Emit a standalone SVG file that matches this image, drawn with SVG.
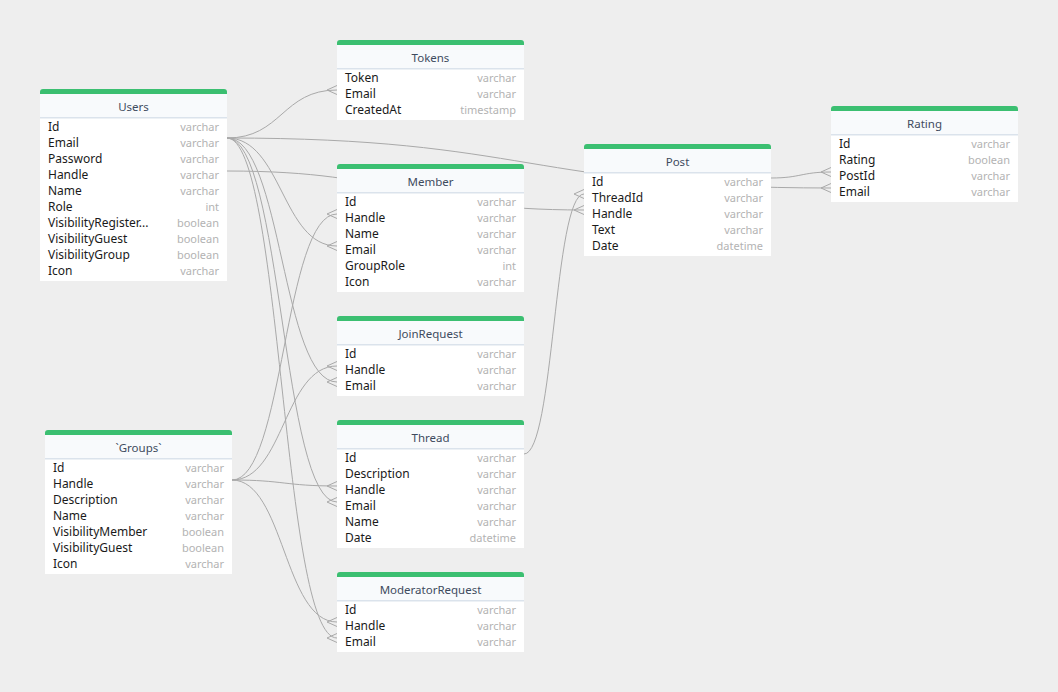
<svg xmlns="http://www.w3.org/2000/svg" width="1058" height="692" viewBox="0 0 1058 692">
<defs>
<style>
.bg{fill:#eeeeee}
.bar{fill:#3bbf71}
.head{fill:#f8fafc}
.body{fill:#ffffff}
.sep{fill:#dbe3ec}
.title{font-family:"Noto Sans","Open Sans",sans-serif;font-size:11.5px;fill:#3e4b5e;text-anchor:middle}
.f{font-family:"Noto Sans","Open Sans",sans-serif;font-size:12px;fill:#1a1a1a}
.t{font-family:"Noto Sans","Open Sans",sans-serif;font-size:11px;fill:#b3b3b3;text-anchor:end}
.c{fill:none;stroke:#a9a9a9;stroke-width:1}
</style>
<marker id="crow" markerUnits="userSpaceOnUse" markerWidth="12" markerHeight="12" viewBox="0 0 12 12" refX="11" refY="6" orient="auto">
<path d="M1,6 L11,1.5 M1,6 L11,10.5" fill="none" stroke="#a9a9a9" stroke-width="1"/>
</marker>
<path id="hdr" d="M0,5 V3 Q0,0 3,0 H184 Q187,0 187,3 V5 Z"/>
</defs>
<rect class="bg" x="0" y="0" width="1058" height="692"/>

<g id="connectors">
<path class="c" marker-end="url(#crow)" d="M227,138 C282,138 282,90 337,90"/>
<path class="c" marker-end="url(#crow)" d="M227,138 C529,138 529,188 831,188"/>
<path class="c" marker-end="url(#crow)" d="M227,138 C282,138 282,246 337,246"/>
<path class="c" marker-end="url(#crow)" d="M227,138 C282,138 282,382 337,382"/>
<path class="c" marker-end="url(#crow)" d="M227,138 C282,138 282,502 337,502"/>
<path class="c" marker-end="url(#crow)" d="M227,138 C282,138 282,638 337,638"/>
<path class="c" marker-end="url(#crow)" d="M227,171 C405,171 405,210 584,210"/>
<path class="c" marker-end="url(#crow)" d="M232,480 C284,480 284,214 337,214"/>
<path class="c" marker-end="url(#crow)" d="M232,480 C284,480 284,366 337,366"/>
<path class="c" marker-end="url(#crow)" d="M232,480 C284,480 284,486 337,486"/>
<path class="c" marker-end="url(#crow)" d="M232,480 C284,480 284,622 337,622"/>
<path class="c" marker-end="url(#crow)" d="M524,454 C554,454 554,194 584,194"/>
<path class="c" marker-end="url(#crow)" d="M771,178 C801,178 801,172 831,172"/>
</g>

<g id="Tokens" transform="translate(337,40)">
<use href="#hdr" class="bar"/><rect class="head" x="0" y="5" width="187" height="23"/><rect class="body" x="0" y="28" width="187" height="52"/><rect class="sep" x="0" y="28" width="187" height="1.5"/>
<text class="title" x="93.5" y="22">Tokens</text>
<text class="f" x="8" y="42">Token</text><text class="t" x="179" y="42">varchar</text>
<text class="f" x="8" y="58">Email</text><text class="t" x="179" y="58">varchar</text>
<text class="f" x="8" y="74">CreatedAt</text><text class="t" x="179" y="74">timestamp</text>
</g>

<g id="Users" transform="translate(40,89)">
<use href="#hdr" class="bar"/><rect class="head" x="0" y="5" width="187" height="23"/><rect class="body" x="0" y="28" width="187" height="164"/><rect class="sep" x="0" y="28" width="187" height="1.5"/>
<text class="title" x="93.5" y="22">Users</text>
<text class="f" x="8" y="42">Id</text><text class="t" x="179" y="42">varchar</text>
<text class="f" x="8" y="58">Email</text><text class="t" x="179" y="58">varchar</text>
<text class="f" x="8" y="74">Password</text><text class="t" x="179" y="74">varchar</text>
<text class="f" x="8" y="90">Handle</text><text class="t" x="179" y="90">varchar</text>
<text class="f" x="8" y="106">Name</text><text class="t" x="179" y="106">varchar</text>
<text class="f" x="8" y="122">Role</text><text class="t" x="179" y="122">int</text>
<text class="f" x="8" y="138">VisibilityRegister...</text><text class="t" x="179" y="138">boolean</text>
<text class="f" x="8" y="154">VisibilityGuest</text><text class="t" x="179" y="154">boolean</text>
<text class="f" x="8" y="170">VisibilityGroup</text><text class="t" x="179" y="170">boolean</text>
<text class="f" x="8" y="186">Icon</text><text class="t" x="179" y="186">varchar</text>
</g>

<g id="Member" transform="translate(337,164)">
<use href="#hdr" class="bar"/><rect class="head" x="0" y="5" width="187" height="23"/><rect class="body" x="0" y="28" width="187" height="100"/><rect class="sep" x="0" y="28" width="187" height="1.5"/>
<text class="title" x="93.5" y="22">Member</text>
<text class="f" x="8" y="42">Id</text><text class="t" x="179" y="42">varchar</text>
<text class="f" x="8" y="58">Handle</text><text class="t" x="179" y="58">varchar</text>
<text class="f" x="8" y="74">Name</text><text class="t" x="179" y="74">varchar</text>
<text class="f" x="8" y="90">Email</text><text class="t" x="179" y="90">varchar</text>
<text class="f" x="8" y="106">GroupRole</text><text class="t" x="179" y="106">int</text>
<text class="f" x="8" y="122">Icon</text><text class="t" x="179" y="122">varchar</text>
</g>

<g id="JoinRequest" transform="translate(337,316)">
<use href="#hdr" class="bar"/><rect class="head" x="0" y="5" width="187" height="23"/><rect class="body" x="0" y="28" width="187" height="52"/><rect class="sep" x="0" y="28" width="187" height="1.5"/>
<text class="title" x="93.5" y="22">JoinRequest</text>
<text class="f" x="8" y="42">Id</text><text class="t" x="179" y="42">varchar</text>
<text class="f" x="8" y="58">Handle</text><text class="t" x="179" y="58">varchar</text>
<text class="f" x="8" y="74">Email</text><text class="t" x="179" y="74">varchar</text>
</g>

<g id="Thread" transform="translate(337,420)">
<use href="#hdr" class="bar"/><rect class="head" x="0" y="5" width="187" height="23"/><rect class="body" x="0" y="28" width="187" height="100"/><rect class="sep" x="0" y="28" width="187" height="1.5"/>
<text class="title" x="93.5" y="22">Thread</text>
<text class="f" x="8" y="42">Id</text><text class="t" x="179" y="42">varchar</text>
<text class="f" x="8" y="58">Description</text><text class="t" x="179" y="58">varchar</text>
<text class="f" x="8" y="74">Handle</text><text class="t" x="179" y="74">varchar</text>
<text class="f" x="8" y="90">Email</text><text class="t" x="179" y="90">varchar</text>
<text class="f" x="8" y="106">Name</text><text class="t" x="179" y="106">varchar</text>
<text class="f" x="8" y="122">Date</text><text class="t" x="179" y="122">datetime</text>
</g>

<g id="ModeratorRequest" transform="translate(337,572)">
<use href="#hdr" class="bar"/><rect class="head" x="0" y="5" width="187" height="23"/><rect class="body" x="0" y="28" width="187" height="52"/><rect class="sep" x="0" y="28" width="187" height="1.5"/>
<text class="title" x="93.5" y="22">ModeratorRequest</text>
<text class="f" x="8" y="42">Id</text><text class="t" x="179" y="42">varchar</text>
<text class="f" x="8" y="58">Handle</text><text class="t" x="179" y="58">varchar</text>
<text class="f" x="8" y="74">Email</text><text class="t" x="179" y="74">varchar</text>
</g>

<g id="Groups" transform="translate(45,430)">
<use href="#hdr" class="bar"/><rect class="head" x="0" y="5" width="187" height="23"/><rect class="body" x="0" y="28" width="187" height="116"/><rect class="sep" x="0" y="28" width="187" height="1.5"/>
<text class="title" x="93.5" y="22">`Groups`</text>
<text class="f" x="8" y="42">Id</text><text class="t" x="179" y="42">varchar</text>
<text class="f" x="8" y="58">Handle</text><text class="t" x="179" y="58">varchar</text>
<text class="f" x="8" y="74">Description</text><text class="t" x="179" y="74">varchar</text>
<text class="f" x="8" y="90">Name</text><text class="t" x="179" y="90">varchar</text>
<text class="f" x="8" y="106">VisibilityMember</text><text class="t" x="179" y="106">boolean</text>
<text class="f" x="8" y="122">VisibilityGuest</text><text class="t" x="179" y="122">boolean</text>
<text class="f" x="8" y="138">Icon</text><text class="t" x="179" y="138">varchar</text>
</g>

<g id="Post" transform="translate(584,144)">
<use href="#hdr" class="bar"/><rect class="head" x="0" y="5" width="187" height="23"/><rect class="body" x="0" y="28" width="187" height="84"/><rect class="sep" x="0" y="28" width="187" height="1.5"/>
<text class="title" x="93.5" y="22">Post</text>
<text class="f" x="8" y="42">Id</text><text class="t" x="179" y="42">varchar</text>
<text class="f" x="8" y="58">ThreadId</text><text class="t" x="179" y="58">varchar</text>
<text class="f" x="8" y="74">Handle</text><text class="t" x="179" y="74">varchar</text>
<text class="f" x="8" y="90">Text</text><text class="t" x="179" y="90">varchar</text>
<text class="f" x="8" y="106">Date</text><text class="t" x="179" y="106">datetime</text>
</g>

<g id="Rating" transform="translate(831,106)">
<use href="#hdr" class="bar"/><rect class="head" x="0" y="5" width="187" height="23"/><rect class="body" x="0" y="28" width="187" height="68"/><rect class="sep" x="0" y="28" width="187" height="1.5"/>
<text class="title" x="93.5" y="22">Rating</text>
<text class="f" x="8" y="42">Id</text><text class="t" x="179" y="42">varchar</text>
<text class="f" x="8" y="58">Rating</text><text class="t" x="179" y="58">boolean</text>
<text class="f" x="8" y="74">PostId</text><text class="t" x="179" y="74">varchar</text>
<text class="f" x="8" y="90">Email</text><text class="t" x="179" y="90">varchar</text>
</g>
</svg>
